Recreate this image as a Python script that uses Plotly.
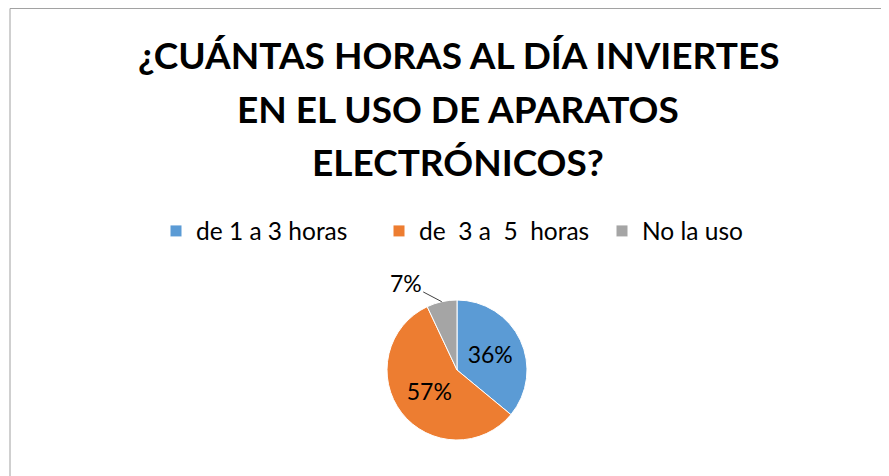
import math
import plotly.graph_objects as go

labels = ["de 1 a 3 horas", "de\u00a0 3 a\u00a0 5\u00a0 horas", "No la uso"]
values = [36, 57, 7]
colors = ["#5B9BD5", "#ED7D31", "#A5A5A5"]
title_lines = ["¿CUÁNTAS HORAS AL DÍA INVIERTES", "EN EL USO DE APARATOS", "ELECTRÓNICOS?"]

W, H = 889, 476
OFF = 8  # page body margin pushes the figure by 8px
FONT = "Lato, Open Sans, sans-serif"


def px_x(x):
    return (x - OFF) / W


def px_y(y):
    return 1 - (y - OFF) / H


# pie placement (screen px)
cx, cy, r = 457, 370, 70

# outside label for the small slice: mid angle of the last slice
total = sum(values)
start = sum(values[:-1]) / total
mid = (start + values[-1] / total / 2) * 2 * math.pi
edge_x = cx + r * math.sin(mid)
edge_y = cy - r * math.cos(mid)
small_label = f"{round(values[-1] / total * 100)}%"

fig = go.Figure()
fig.add_trace(
    go.Pie(
        labels=labels,
        values=values,
        sort=False,
        direction="clockwise",
        rotation=0,
        marker=dict(colors=colors, line=dict(color="white", width=1)),
        texttemplate=["%{percent:.0%}", "%{percent:.0%}", ""],
        textposition=["inside", "inside", "none"],
        insidetextorientation="horizontal",
        textfont=dict(family=FONT, size=23, color="#000000"),
        domain=dict(x=[px_x(cx - r), px_x(cx + r)], y=[px_y(cy + r), px_y(cy - r)]),
        hoverinfo="label+percent",
    )
)

title_annotations = []
for i, line in enumerate(title_lines):
    title_annotations.append(
        dict(
            text=f"<b>{line}</b>",
            xref="paper",
            yref="paper",
            x=px_x(458),
            y=px_y(30 + 53.5 * i),
            xanchor="center",
            yanchor="top",
            showarrow=False,
            font=dict(family=FONT, size=37, color="#000000"),
        )
    )

fig.update_layout(
    width=W,
    height=H,
    margin=dict(l=0, r=0, t=0, b=0),
    paper_bgcolor="white",
    plot_bgcolor="white",
    font=dict(family=FONT, color="#000000"),
    showlegend=True,
    legend=dict(
        orientation="h",
        x=px_x(156),
        xanchor="left",
        y=px_y(231),
        yanchor="middle",
        entrywidth=178,
        entrywidthmode="pixels",
        font=dict(family=FONT, size=24.5, color="#000000"),
        itemclick=False,
    ),
    annotations=title_annotations
    + [
        dict(
            text=small_label,
            xref="paper",
            yref="paper",
            x=px_x(edge_x),
            y=px_y(edge_y),
            ax=-36,
            ay=-19,
            showarrow=True,
            arrowhead=0,
            arrowwidth=1,
            arrowcolor="#404040",
            font=dict(family=FONT, size=23, color="#000000"),
        ),
    ],
    shapes=[
        dict(
            type="rect",
            xref="paper",
            yref="paper",
            x0=px_x(10),
            x1=px_x(884),
            y0=-0.2,
            y1=0.999,
            line=dict(color="#A0A0A0", width=1),
        )
    ],
)

fig.write_html("out.html")
